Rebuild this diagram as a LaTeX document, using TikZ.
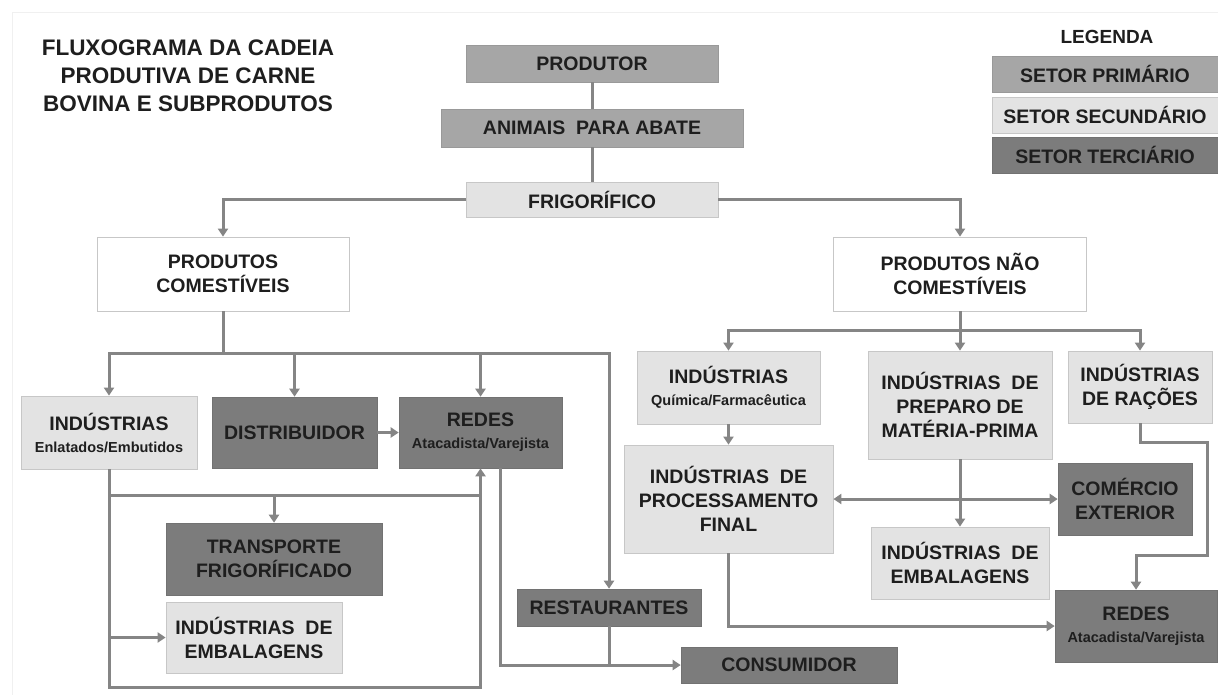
\documentclass[tikz,border=0pt]{standalone}
\usepackage{fontspec}
\setmainfont{Liberation Sans}
\usetikzlibrary{arrows.meta}

\definecolor{primario}{HTML}{A6A6A6}
\definecolor{secundario}{HTML}{E3E3E3}
\definecolor{terciario}{HTML}{7C7C7C}
\definecolor{fio}{HTML}{858585}
\definecolor{texto}{HTML}{1E1E1E}

\newcommand{\subtxt}[1]{{\fontsize{14.5}{17}\selectfont #1}}

\begin{document}
\begin{tikzpicture}[x=1pt, y=-1pt,
    caixa/.style={rectangle, inner sep=2pt, align=center, text=texto,
        font=\bfseries\fontsize{19.5}{24}\selectfont},
    prim/.style={caixa, fill=primario, draw=primario!92!black, line width=0.6pt},
    sec/.style={caixa, fill=secundario, draw=black!22, line width=0.8pt},
    ter/.style={caixa, fill=terciario, draw=terciario!92!black, line width=0.6pt},
    branco/.style={caixa, fill=white, draw=black!22, line width=0.8pt},
    flow/.style={draw=fio, line width=3pt},
    flowto/.style={flow, -{Triangle[length=8pt,width=10pt]}},
    flowboth/.style={flow, {Triangle[length=8pt,width=10pt]}-{Triangle[length=8pt,width=10pt]}}]
    \useasboundingbox (0,0) rectangle (1218,694);
    \draw[black!6, line width=1pt] (12,12) rectangle (1240,720);

    % Titulo e legenda
    \node[align=center, text=texto, font=\bfseries\fontsize{22.5}{28}\selectfont] (titulo) at (188,76)
        {FLUXOGRAMA DA CADEIA\\PRODUTIVA DE CARNE\\BOVINA E SUBPRODUTOS};
    \node[text=texto, font=\bfseries\fontsize{19}{24}\selectfont] (legenda) at (1107,37) {LEGENDA};
    \node[prim, minimum width=226pt, minimum height=36pt] (lprim) at (1105,74) {SETOR PRIMÁRIO};
    \node[sec, minimum width=226pt, minimum height=36pt] (lsec) at (1105,115) {SETOR SECUNDÁRIO};
    \node[ter, minimum width=226pt, minimum height=36pt] (lter) at (1105,155) {SETOR TERCIÁRIO};

    % Topo da cadeia
    \node[prim, minimum width=252pt, minimum height=37pt] (prod) at (592,63.5) {PRODUTOR};
    \node[prim, minimum width=302pt, minimum height=38pt] (anim) at (592,128) {ANIMAIS\ \ PARA ABATE};
    \node[sec, minimum width=252pt, minimum height=35pt] (frig) at (592,199.5) {FRIGORÍFICO};
    \node[branco, minimum width=252pt, minimum height=74pt] (comest) at (223,274) {PRODUTOS\\COMESTÍVEIS};
    \node[branco, minimum width=253pt, minimum height=74pt] (naocom) at (960,274) {PRODUTOS NÃO\\COMESTÍVEIS};

    % Produtos comestiveis
    \node[sec, minimum width=176pt, minimum height=73pt] (indenl) at (109,432.5)
        {INDÚSTRIAS\\[-2pt]\subtxt{Enlatados/Embutidos}};
    \node[ter, minimum width=165pt, minimum height=71pt] (distr) at (294.5,432.5) {DISTRIBUIDOR};
    \node[ter, minimum width=163pt, minimum height=71pt] (redes1) at (480.5,432.5)
        {REDES\\[-2pt]\subtxt{Atacadista/Varejista}};
    \node[ter, minimum width=216pt, minimum height=72pt] (transp) at (274,559) {TRANSPORTE\\FRIGORÍFICADO};
    \node[sec, minimum width=176pt, minimum height=71pt] (emb1) at (254,637.5) {INDÚSTRIAS\ \ DE\\EMBALAGENS};
    \node[ter, minimum width=184pt, minimum height=37pt] (rest) at (609,607.5) {RESTAURANTES};
    \node[ter, minimum width=216pt, minimum height=36pt] (cons) at (789,665) {CONSUMIDOR};

    % Produtos nao comestiveis
    \node[sec, minimum width=183pt, minimum height=73pt] (quim) at (728.5,387.5)
        {INDÚSTRIAS\\[-2pt]\subtxt{Química/Farmacêutica}};
    \node[sec, minimum width=209pt, minimum height=108pt] (proc) at (728.5,499)
        {INDÚSTRIAS\ \ DE\\PROCESSAMENTO\\FINAL};
    \node[sec, minimum width=184pt, minimum height=108pt] (prep) at (960,405)
        {INDÚSTRIAS\ \ DE\\PREPARO DE\\MATÉRIA-PRIMA};
    \node[sec, minimum width=144pt, minimum height=72pt] (racoes) at (1140,387) {INDÚSTRIAS\\DE RAÇÕES};
    \node[ter, minimum width=134pt, minimum height=72pt] (comext) at (1125,499) {COMÉRCIO\\EXTERIOR};
    \node[sec, minimum width=178pt, minimum height=72pt] (emb2) at (960,563) {INDÚSTRIAS\ \ DE\\EMBALAGENS};
    \node[ter, minimum width=162pt, minimum height=72pt] (redes2) at (1136,626)
        {REDES\\[-2pt]\subtxt{Atacadista/Varejista}};

    % Ligacoes do topo
    \draw[flow] (prod) -- (anim);
    \draw[flow] (anim) -- (frig);
    \draw[flowto] (frig) -| (comest);
    \draw[flowto] (frig) -| (naocom);

    % Ligacoes comestiveis
    \coordinate (cb) at (223,353);
    \coordinate (meio) at (0,495);
    \coordinate (fundo) at (0,687);
    \draw[flow] (comest) -- (cb);
    \draw[flowto] (cb) -| (indenl);
    \draw[flowto] (cb) -| (rest);
    \draw[flowto] (distr |- cb) -- (distr);
    \draw[flowto] (redes1 |- cb) -- (redes1);
    \draw[flowto] (distr) -- (redes1);
    \draw[flowto] (indenl) -- (indenl |- fundo) -| (redes1);
    \draw[flow] (indenl |- meio) -- (redes1 |- meio);
    \draw[flowto] (transp |- meio) -- (transp);
    \draw[flowto] (indenl |- emb1) -- (emb1);
    \draw[flowto] ([xshift=19.5pt]redes1.south) |- (cons);
    \draw[flow] (rest) -- (rest |- cons);

    % Ligacoes nao comestiveis
    \coordinate (nb) at (960,330);
    \draw[flow] (naocom) -- (nb);
    \draw[flowto] (nb) -| (quim);
    \draw[flowto] (nb) -| (racoes);
    \draw[flowto] (nb) -- (prep);
    \draw[flowto] (quim) -- (proc);
    \draw[flowto] (prep) -- (emb2);
    \draw[flowboth] (proc) -- (comext);
    \draw[flowto] (proc) |- (redes2);
    \draw[flowto] (racoes.south) -- ++(0,19) -- ++(67,0) -- ++(0,113) -| (redes2);
\end{tikzpicture}
\end{document}
